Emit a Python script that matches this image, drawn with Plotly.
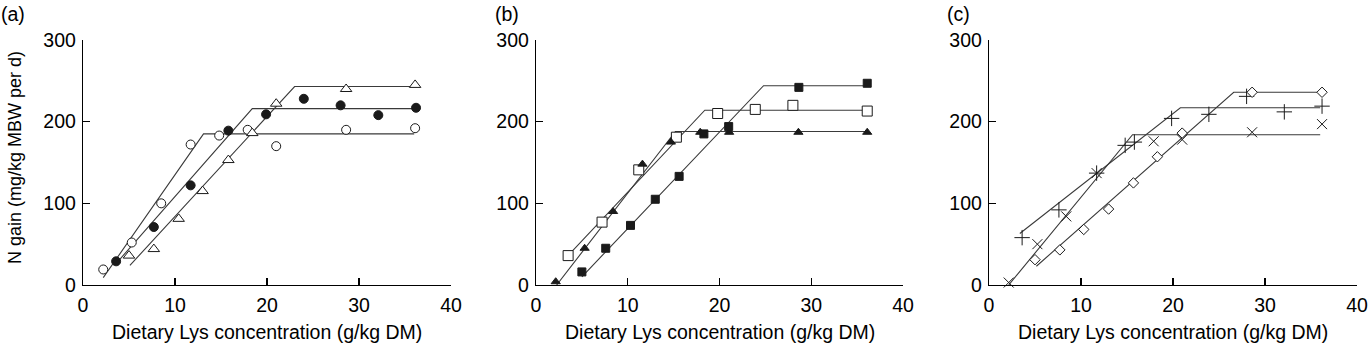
import plotly.graph_objects as go

W, H = 1368, 343

# ---------------- Panel (a) ----------------
a_open_circle_x = [2.2, 5.3, 8.5, 11.7, 14.8, 17.9, 21.0, 28.6, 36.1]
a_open_circle_y = [19, 52, 100, 172, 183, 190, 170, 190, 192]
a_filled_circle_x = [3.6, 7.7, 11.7, 15.8, 19.9, 24.0, 28.0, 32.1, 36.2]
a_filled_circle_y = [29, 71, 122, 189, 209, 228, 220, 208, 217]
a_open_tri_x = [5.0, 7.7, 10.4, 13.0, 15.8, 18.4, 21.0, 28.6, 36.1]
a_open_tri_y = [36, 44, 81, 115, 153, 186, 222, 240, 245]
a_fit_circle_x = [2.2, 13.1, 36.0]
a_fit_circle_y = [9, 185, 185]
a_fit_filled_x = [3.5, 18.4, 36.0]
a_fit_filled_y = [25, 216, 216]
a_fit_tri_x = [5.1, 23.0, 36.0]
a_fit_tri_y = [24, 243, 243]

# ---------------- Panel (b) ----------------
b_open_sq_x = [3.5, 7.2, 11.2, 15.3, 19.8, 23.9, 28.0, 36.1]
b_open_sq_y = [36, 77, 141, 181, 210, 215, 220, 213]
b_filled_tri_x = [2.15, 5.3, 8.4, 11.6, 14.7, 17.9, 21.05, 28.6, 36.1]
b_filled_tri_y = [4, 45, 90, 148, 175, 187, 187, 187, 187]
b_filled_sq_x = [5.0, 7.6, 10.3, 13.0, 15.6, 18.3, 21.0, 28.65, 36.1]
b_filled_sq_y = [16, 45, 73, 105, 133, 185, 194, 242, 247]
b_fit_sq_x = [3.9, 18.4, 36.0]
b_fit_sq_y = [41, 214, 214]
b_fit_tri_x = [2.25, 15.2, 36.0]
b_fit_tri_y = [0, 188, 188]
b_fit_fsq_x = [5.0, 24.8, 36.0]
b_fit_fsq_y = [10, 244, 244]

# ---------------- Panel (c) ----------------
c_plus_x = [3.6, 7.6, 11.7, 14.8, 15.8, 19.85, 23.9, 28.0, 32.1, 36.2]
c_plus_y = [58, 92, 137, 171, 175, 204, 209, 231, 212, 219]
c_x_x = [2.14, 5.26, 8.4, 11.7, 17.9, 21.0, 28.6, 36.2]
c_x_y = [3, 50, 84, 137, 176, 178, 187, 197]
c_dia_x = [5.0, 7.7, 10.3, 13.0, 15.7, 18.3, 21.0, 28.6, 36.2]
c_dia_y = [31, 43, 68, 93, 125, 157, 186, 236, 236]
c_fit_plus_x = [3.35, 20.8, 36.0]
c_fit_plus_y = [63, 217, 217]
c_fit_x_x = [2.14, 15.6, 36.0]
c_fit_x_y = [0, 184, 184]
c_fit_dia_x = [5.15, 26.6, 36.0]
c_fit_dia_y = [23, 236, 236]

x_tick_vals = [0, 10, 20, 30, 40]
y_tick_vals = [0, 100, 200, 300]
panel_labels = ["(a)", "(b)", "(c)"]
x_title = "Dietary Lys concentration (g/kg DM)"
y_title = "N gain (mg/kg MBW per d)"

FONT = "Liberation Sans, Arial, Helvetica, sans-serif"
FS = 19.5
LINE_C = "#3a3a3a"
MK_C = "#1a1a1a"

def fx(px):
    return px / W

def fy(py):
    return 1 - py / H

fig = go.Figure()

def add_fit(xs, ys, ax):
    fig.add_trace(go.Scatter(x=xs, y=ys, mode="lines", xaxis="x" + ax, yaxis="y" + ax,
                             line=dict(color=LINE_C, width=1.1), showlegend=False,
                             hoverinfo="skip", cliponaxis=False))

def add_pts(xs, ys, ax, symbol, size, filled):
    fig.add_trace(go.Scatter(
        x=xs, y=ys, mode="markers", xaxis="x" + ax, yaxis="y" + ax,
        marker=dict(symbol=symbol, size=size,
                    color=MK_C if filled else "white",
                    line=dict(color=MK_C, width=1)),
        showlegend=False, cliponaxis=False))

ax_a, ax_b, ax_c = "", "2", "3"
add_fit(a_fit_circle_x, a_fit_circle_y, ax_a)
add_fit(a_fit_filled_x, a_fit_filled_y, ax_a)
add_fit(a_fit_tri_x, a_fit_tri_y, ax_a)
add_pts(a_open_circle_x, a_open_circle_y, ax_a, "circle", 9, False)
add_pts(a_filled_circle_x, a_filled_circle_y, ax_a, "circle", 9, True)
add_pts(a_open_tri_x, a_open_tri_y, ax_a, "triangle-up", 10, False)

add_fit(b_fit_sq_x, b_fit_sq_y, ax_b)
add_fit(b_fit_tri_x, b_fit_tri_y, ax_b)
add_fit(b_fit_fsq_x, b_fit_fsq_y, ax_b)
add_pts(b_open_sq_x, b_open_sq_y, ax_b, "square", 10, False)
add_pts(b_filled_tri_x, b_filled_tri_y, ax_b, "triangle-up", 8, True)
add_pts(b_filled_sq_x, b_filled_sq_y, ax_b, "square", 8, True)

add_fit(c_fit_plus_x, c_fit_plus_y, ax_c)
add_fit(c_fit_x_x, c_fit_x_y, ax_c)
add_fit(c_fit_dia_x, c_fit_dia_y, ax_c)
add_pts(c_plus_x, c_plus_y, ax_c, "cross-thin", 11, False)
add_pts(c_x_x, c_x_y, ax_c, "x-thin", 10, False)
add_pts(c_dia_x, c_dia_y, ax_c, "diamond", 8, False)

dom_px = [(83, 451), (536, 903), (989, 1357)]
y_dom = [fy(285), fy(40)]

axis_common = dict(showgrid=False, zeroline=False, showline=True, linecolor="black",
                   linewidth=1.2, ticks="inside", ticklen=7, tickcolor="black", tickwidth=1.2,
                   automargin=False,
                   tickfont=dict(family=FONT, size=FS, color="black"))

layout = dict(
    width=W, height=H, margin=dict(l=0, r=0, t=0, b=0, pad=0, autoexpand=False),
    paper_bgcolor="white", plot_bgcolor="white",
    font=dict(family=FONT, color="black"),
    annotations=[],
)
for i, (x0, x1) in enumerate(dom_px):
    sfx = "" if i == 0 else str(i + 1)
    layout["xaxis" + sfx] = dict(axis_common, domain=[fx(x0), fx(x1)], range=[0, 40],
                                tickvals=x_tick_vals, anchor="y" + sfx, ticklabelstandoff=2)
    layout["yaxis" + sfx] = dict(axis_common, domain=y_dom, range=[0, 300],
                                tickvals=y_tick_vals, anchor="x" + sfx, ticklabelstandoff=2)
    layout["annotations"].append(dict(
        text=x_title, xref="paper", yref="paper", x=fx((x0 + x1) / 2), y=fy(332),
        xanchor="center", yanchor="middle", showarrow=False,
        font=dict(family=FONT, size=FS, color="black")))

label_px = [13, 507, 958]
for lbl, lx in zip(panel_labels, label_px):
    layout["annotations"].append(dict(
        text=lbl, xref="paper", yref="paper", x=fx(lx), y=fy(14),
        xanchor="center", yanchor="middle", showarrow=False,
        font=dict(family=FONT, size=FS, color="black")))

layout["annotations"].append(dict(
    text=y_title, xref="paper", yref="paper", x=fx(15), y=fy(158),
    xanchor="center", yanchor="middle", showarrow=False, textangle=-90,
    font=dict(family=FONT, size=18, color="black")))

fig.update_layout(**layout)
# remove the browser's default 8px body margin so the figure fills the window exactly
fig.write_html("out.html",
               config={"displayModeBar": False, "staticPlot": True},
               post_script="document.body.style.margin='0';document.body.style.overflow='hidden';")
